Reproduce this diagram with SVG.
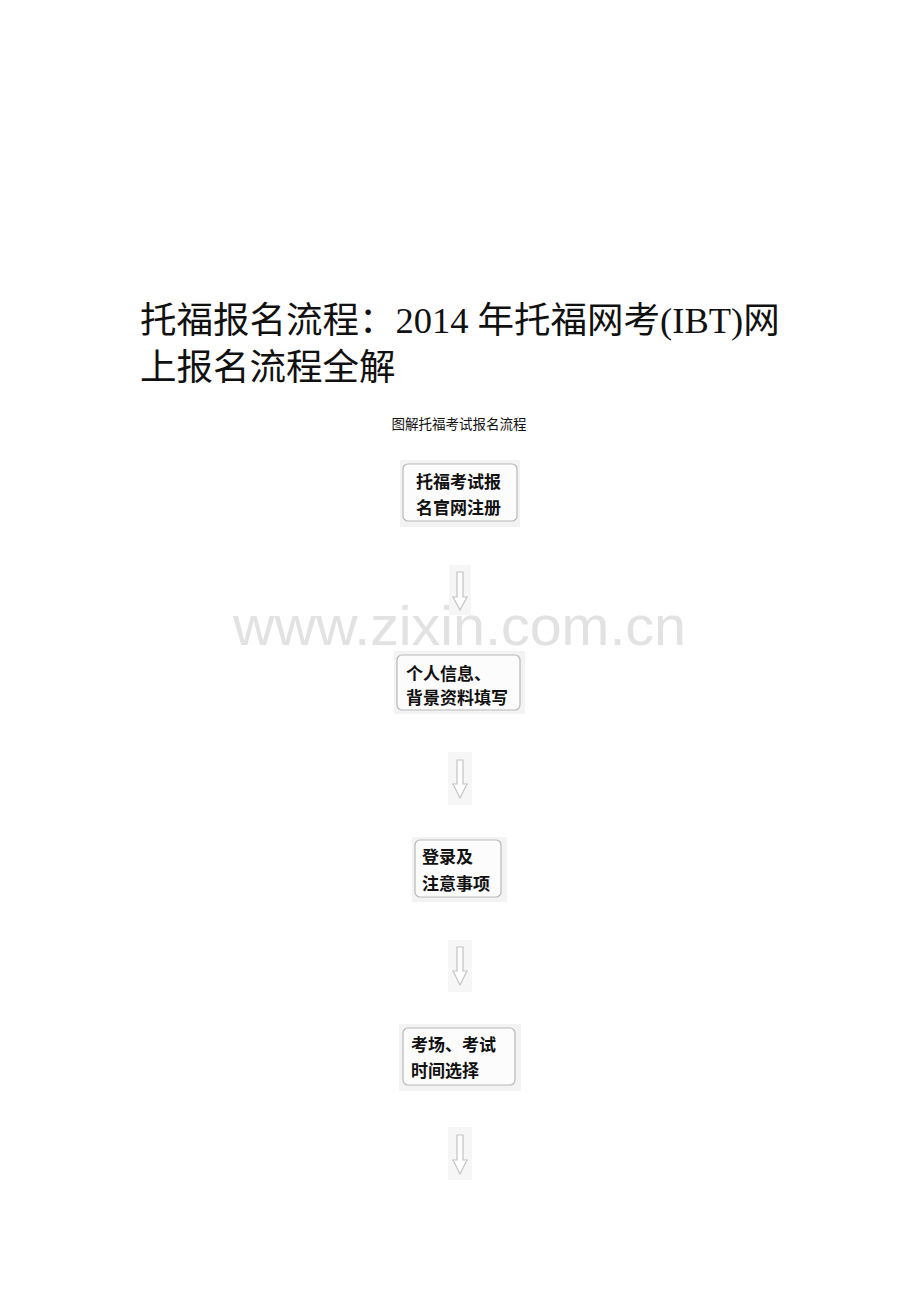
<svg xmlns="http://www.w3.org/2000/svg" width="920" height="1302" viewBox="0 0 920 1302">
<style>
.title{font-family:"Liberation Serif","Noto Sans CJK SC",serif;font-size:36.5px;fill:#111}
.sub{font-family:"Noto Sans CJK SC",sans-serif;font-size:13.5px;fill:#111}
.wm{font-family:"Liberation Sans","DejaVu Sans",sans-serif;fill:#e2e2e2}
.bg{fill:#f3f3f3}
.box{fill:#fcfcfc;stroke:#b8b8b8;stroke-width:1.2}
.lbl{font-family:"Noto Sans CJK SC",sans-serif;font-weight:700;font-size:17px;fill:#111}
.abg{fill:#f6f6f6}
.arrow{fill:#fdfdfd;stroke:#c4c4c4;stroke-width:1.2;stroke-linejoin:miter}
</style>
<rect width="920" height="1302" fill="#ffffff"/>
<g id="title">
<text class="title" x="140" y="333">托福报名流程：2014 年托福网考(IBT)网</text>
<text class="title" x="140" y="380">上报名流程全解</text>
</g>
<text class="sub" x="459" y="429" text-anchor="middle">图解托福考试报名流程</text>
<text class="wm" x="233" y="645" font-size="56" textLength="453" lengthAdjust="spacingAndGlyphs">www.zixin.com.cn</text>
<g id="connectors">
<g id="a1"><rect class="abg" x="449" y="565" width="22" height="50"/><path class="arrow" d="M457,572 V597 H453 L460,610 L467,597 H463 V572 Z"/></g>
<g id="a2"><rect class="abg" x="448" y="752" width="24" height="53"/><path class="arrow" d="M457,760 V784 H453 L460,798 L467,784 H463 V760 Z"/></g>
<g id="a3"><rect class="abg" x="448" y="940" width="24" height="52"/><path class="arrow" d="M457,947 V971 H453 L460,985 L467,971 H463 V947 Z"/></g>
<g id="a4"><rect class="abg" x="448" y="1127" width="24" height="53"/><path class="arrow" d="M457,1135 V1160 H453 L460,1174 L467,1160 H463 V1135 Z"/></g>
</g>
<g id="n1">
<rect class="bg" x="400" y="460" width="120" height="67"/>
<rect class="box" x="403" y="464" width="114" height="57" rx="5"/>
<text class="lbl" x="416" y="488">托福考试报</text>
<text class="lbl" x="416" y="514">名官网注册</text>
</g>
<g id="n2">
<rect class="bg" x="394" y="651" width="131" height="63"/>
<rect class="box" x="397" y="655" width="123" height="55" rx="5"/>
<text class="lbl" x="406" y="680">个人信息、</text>
<text class="lbl" x="406" y="704">背景资料填写</text>
</g>
<g id="n3">
<rect class="bg" x="412" y="837" width="95" height="65"/>
<rect class="box" x="415" y="840" width="86" height="57" rx="5"/>
<text class="lbl" x="422" y="863">登录及</text>
<text class="lbl" x="422" y="890">注意事项</text>
</g>
<g id="n4">
<rect class="bg" x="399" y="1024" width="122" height="67"/>
<rect class="box" x="403" y="1028" width="112" height="57" rx="5"/>
<text class="lbl" x="411" y="1051">考场、考试</text>
<text class="lbl" x="411" y="1077">时间选择</text>
</g>
</svg>
